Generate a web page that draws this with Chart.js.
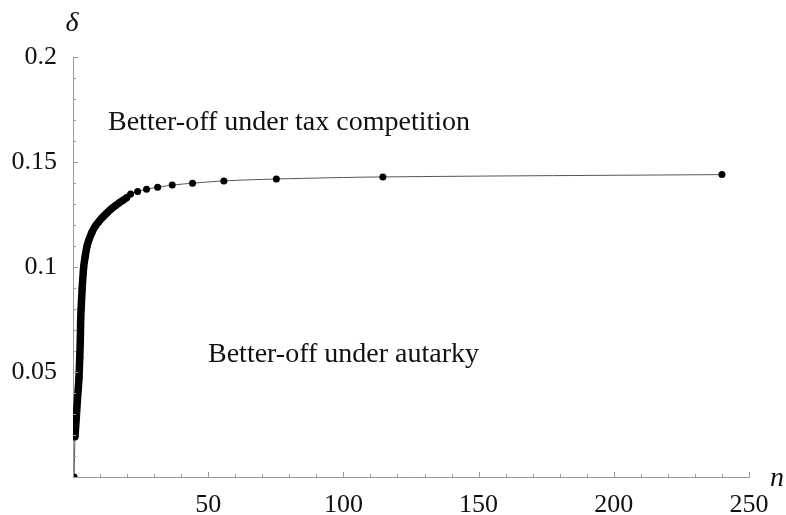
<!DOCTYPE html>
<html>
<head>
<meta charset="utf-8">
<script src="https://cdn.jsdelivr.net/npm/chart.js@4.4.0/dist/chart.umd.min.js"></script>
<style>
    body { margin: 0; background: #fff; }
    #wrap { width: 786px; height: 515px; }
</style>
</head>
<body>
<div id="wrap"><canvas id="deltaChart"></canvas></div>
<script>
// n values and threshold delta
let nValues = [0.4, 0.75, 1.2, 1.66, 2.0, 2.2, 2.5, 2.7, 2.85, 3.0, 3.4, 3.95, 4.5, 5.2, 5.9,
    7.0, 8.1, 9.5, 11, 12.5, 14, 15.5, 17, 18.5, 20,
    21.3, 23.9, 27.2, 31.3, 36.7, 44.2, 55.8, 75.2, 114.6, 240];
let deltaValues = [0, 0.019, 0.028, 0.037, 0.043, 0.047, 0.057, 0.065, 0.075, 0.080, 0.090, 0.100, 0.105, 0.110, 0.113,
    0.1165, 0.1192, 0.1215, 0.1238, 0.1257, 0.1275, 0.129, 0.1305, 0.1318, 0.1332,
    0.1348, 0.1360, 0.1370, 0.1380, 0.1390, 0.1399, 0.1410, 0.1419, 0.1429, 0.1440];
let xTickLabels = ['50', '100', '150', '200', '250'];
let yTickLabels = ['0.05', '0.1', '0.15', '0.2'];
let regionLabels = ['Better-off under tax competition', 'Better-off under autarky'];

let points = [];
for (let i in nValues) {
    points.push({x: nValues[i], y: deltaValues[i]});
}

const serif = "'Liberation Serif', 'DejaVu Serif', serif";

// the dense run of points between n = 0.75 and n = 20 merges into a thick band
function inBand(c) {
    return c.p0.parsed.x >= 0.75 && c.p1.parsed.x <= 20;
}

// inward tick marks, axis names and region texts
let extras = {
    id: 'extras',
    afterDraw(chart) {
        let ctx = chart.ctx;
        let xs = chart.scales.x, ys = chart.scales.y;
        ctx.save();
        ctx.strokeStyle = '#999';
        ctx.lineWidth = 1;
        ctx.beginPath();
        xs.ticks.forEach(t => {
            let px = Math.round(xs.getPixelForValue(t.value)) + 0.5;
            let len = (t.value % 50 === 0) ? 5 : 3;
            ctx.moveTo(px, ys.bottom);
            ctx.lineTo(px, ys.bottom - len);
        });
        ys.ticks.forEach(t => {
            let py = Math.round(ys.getPixelForValue(t.value)) + 0.5;
            let len = (Math.round(t.value * 100) % 5 === 0) ? 5 : 3;
            ctx.moveTo(xs.left, py);
            ctx.lineTo(xs.left + len, py);
        });
        ctx.stroke();

        ctx.fillStyle = '#111';
        ctx.font = 'italic 28px ' + serif;
        ctx.textAlign = 'center';
        ctx.textBaseline = 'middle';
        ctx.fillText('δ', 72, 24);
        ctx.fillText('n', 777, 479);

        ctx.font = '28px ' + serif;
        ctx.textAlign = 'left';
        ctx.textBaseline = 'alphabetic';
        ctx.fillText(regionLabels[0], 108, 130);
        ctx.fillText(regionLabels[1], 208, 362);
        ctx.restore();
    }
};

let ctx = document.getElementById('deltaChart').getContext('2d');
let myChart = new Chart(ctx, {
    type: 'line',
    data: {
        datasets: [{
            label: 'delta',
            data: points,
            borderColor: '#555',
            borderWidth: 1,
            pointRadius: 3.5,
            pointBackgroundColor: '#000',
            pointBorderWidth: 0,
            tension: 0.3,
            segment: {
                borderWidth: c => inBand(c) ? 7.5 : 1,
                borderColor: c => inBand(c) ? '#000' : '#555'
            }
        }]
    },
    options: {
        responsive: true,
        maintainAspectRatio: false,
        animation: false,
        layout: { padding: { left: 0, right: 37, top: 57, bottom: 0 } },
        plugins: { legend: { display: false }, tooltip: { enabled: false } },
        scales: {
            x: {
                type: 'linear',
                min: 0,
                max: 250,
                afterFit: s => { s.height = 38; },
                grid: { display: false, drawTicks: false },
                border: { display: true, color: '#999', width: 1 },
                ticks: {
                    stepSize: 10,
                    autoSkip: false,
                    maxRotation: 0,
                    padding: 13,
                    color: '#111',
                    font: { family: serif, size: 26 },
                    callback: v => (v % 50 === 0 && v > 0) ? xTickLabels[v / 50 - 1] : ''
                }
            },
            y: {
                min: 0,
                max: 0.2,
                afterFit: s => { s.width = 73; },
                grid: { display: false, drawTicks: false },
                border: { display: true, color: '#999', width: 1 },
                ticks: {
                    stepSize: 0.01,
                    autoSkip: false,
                    padding: 16,
                    color: '#111',
                    font: { family: serif, size: 26 },
                    callback: v => {
                        let k = Math.round(v * 100);
                        return (k % 5 === 0 && k > 0) ? yTickLabels[k / 5 - 1] : '';
                    }
                }
            }
        }
    },
    plugins: [extras]
});
</script>
</body>
</html>
